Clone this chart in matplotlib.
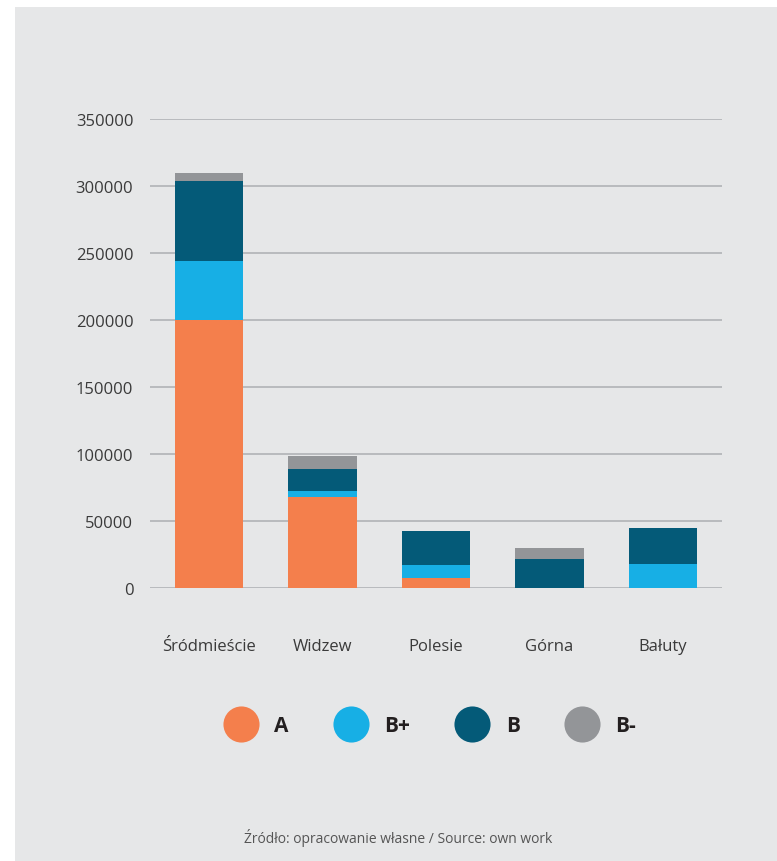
import matplotlib
matplotlib.use("Agg")
import matplotlib.pyplot as plt
from matplotlib.lines import Line2D
from matplotlib.patches import Rectangle
import numpy as np

# data
districts = ["Śródmieście", "Widzew", "Polesie", "Górna", "Bałuty"]
classes = ["A", "B+", "B", "B-"]
A = [200000, 68000, 7500, 0, 0]
B_plus = [44000, 4500, 9700, 0, 18000]
B = [60000, 16500, 25300, 21600, 26700]
B_minus = [6000, 9500, 0, 8200, 0]
yticks = [0, 50000, 100000, 150000, 200000, 250000, 300000, 350000]

colors = ["#f47f4c", "#17afe5", "#045a78", "#939598"]
bg = "#e6e7e8"

plt.rcParams['font.family'] = ['Open Sans', 'DejaVu Sans']

fig = plt.figure(figsize=(7.77, 8.62), dpi=100)
fig.patch.set_facecolor("white")
fig.patches.append(Rectangle((15 / 777, 0), 1, 854 / 862, transform=fig.transFigure,
                             facecolor=bg, edgecolor="none", zorder=-10))

ax = fig.add_axes([150 / 777, 273 / 862, 572 / 777, 469 / 862])
ax.set_facecolor("none")

x = np.arange(len(districts))
bottom = np.zeros(len(districts))
for vals, c in zip([A, B_plus, B, B_minus], colors):
    ax.bar(x, vals, width=0.6, bottom=bottom, color=c, linewidth=0, zorder=3)
    bottom += np.array(vals)

ax.set_xlim(-0.52, 4.52)
ax.set_ylim(0, 350000)
ax.set_yticks(yticks)
ax.set_yticklabels([str(v) for v in yticks])
ax.set_xticks(x)
ax.set_xticklabels(districts)
ax.yaxis.grid(True, color="#b1b3b6", linewidth=1.2, zorder=0)
ax.set_axisbelow(True)
for s in ax.spines.values():
    s.set_visible(False)
ax.tick_params(axis="both", length=0, labelsize=12, labelcolor="#3a3a3a")
ax.tick_params(axis="y", pad=12)
ax.tick_params(axis="x", pad=36)

handles = [Line2D([], [], marker="o", linestyle="none", markersize=26,
                  markerfacecolor=c, markeredgecolor="none") for c in colors]
leg = fig.legend(handles, classes, loc="center", bbox_to_anchor=(428 / 777, 1 - 727 / 862),
                 ncol=4, frameon=False, handletextpad=0.6, columnspacing=2.0,
                 prop={"weight": "bold", "size": 15})
for t in leg.get_texts():
    t.set_color("#231f20")

fig.text(398 / 777, 1 - 838 / 862, "Źródło: opracowanie własne / Source: own work",
         ha="center", va="center", fontsize=10, color="#555555")

fig.savefig("out.png", dpi=100, facecolor=fig.get_facecolor())
